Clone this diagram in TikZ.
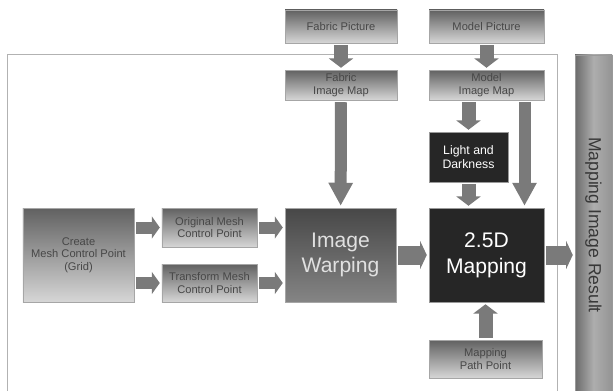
\documentclass[tikz,border=0pt]{standalone}
\usepackage{fontspec}
\setmainfont{Liberation Sans}
\usetikzlibrary{arrows.meta}

\begin{document}
\begin{tikzpicture}[x=0.03cm, y=-0.03cm,
    greybox/.style = {draw=black!35, top color=black!62, bottom color=black!16,
        text=black!72, align=center, inner sep=0pt, font=\fontsize{9.5}{10.5}\selectfont},
    darkbox/.style = {draw=black!40, fill=black!85, text=white!88, align=center, inner sep=0pt},
    bigtext/.style = {font=\fontsize{18}{22}\selectfont},
    flow/.style = {draw=black!52, line width=0.42cm, -{Triangle[width=0.72cm, length=0.28cm]},
        shorten <=0.06cm, shorten >=0.06cm},
    sideflow/.style = {flow, line width=0.36cm, -{Triangle[width=0.66cm, length=0.24cm]}},
    wideflow/.style = {flow, line width=0.57cm, -{Triangle[width=0.84cm, length=0.2cm]}},
    longflow/.style = {draw=black!52, line width=0.36cm, -{Triangle[width=0.69cm, length=0.69cm]},
        shorten <=0.06cm, shorten >=0.06cm}]
    \useasboundingbox (0,0) rectangle (614,391);
    % frame
    \draw[black!30, line width=0.5pt] (7,400) -- (7,54) -- (557,54) -- (557,400);
    % boxes
    \node[greybox, minimum width=3.36cm, minimum height=0.99cm] (fabpic) at (341,26.5) {Fabric Picture};
    \node[greybox, minimum width=3.45cm, minimum height=0.99cm] (modpic) at (486.5,26.5) {Model Picture};
    \node[greybox, minimum width=3.36cm, minimum height=0.9cm] (fabmap) at (341,85) {Fabric\\Image Map};
    \node[greybox, minimum width=3.45cm, minimum height=0.9cm] (modmap) at (486.5,85) {Model\\Image Map};
    \node[darkbox, minimum width=2.37cm, minimum height=1.5cm, font=\fontsize{10.5}{11.5}\selectfont]
        (light) at (468.5,157) {Light and\\Darkness};
    \node[greybox, minimum width=3.33cm, minimum height=2.82cm, bigtext,
        top color=black!72, bottom color=black!48, text=black!12] (warp) at (340.5,255) {Image\\Warping};
    \node[darkbox, minimum width=3.45cm, minimum height=2.82cm, bigtext] (mapping) at (486.5,255) {2.5D\\Mapping};
    \node[greybox, minimum width=3.33cm, minimum height=2.82cm] (create) at (78.5,255)
        {Create\\Mesh Control Point\\(Grid)};
    \node[greybox, minimum width=2.85cm, minimum height=1.17cm] (orig) at (209.5,227.5) {Original Mesh\\Control Point};
    \node[greybox, minimum width=2.85cm, minimum height=1.14cm] (trans) at (209.5,283) {Transform Mesh\\Control Point};
    \node[greybox, minimum width=3.39cm, minimum height=1.14cm] (path) at (485.5,359) {Mapping\\Path Point};
    \node[draw=black!40, inner sep=0pt, minimum width=1.11cm, minimum height=10.2cm,
        left color=black!58, right color=black!42, middle color=black!32, text=black!78]
        (result) at (593.5,225) {\rotatebox{-90}{\fontsize{15}{17}\selectfont Mapping Image Result}};
    % arrows
    \draw[flow] (fabpic) -- (fabmap);
    \draw[flow] (modpic) -- (modmap);
    \draw[longflow] (fabmap) -- (warp);
    \draw[flow] (modmap.south -| light.north) -- (light);
    \draw[flow] (light) -- (light.south |- mapping.north);
    \draw[longflow] ([xshift=1.14cm]modmap.south) -- ([xshift=1.14cm]mapping.north);
    \draw[sideflow] (create.east |- orig.west) -- (orig.west);
    \draw[sideflow] (create.east |- trans.west) -- (trans.west);
    \draw[sideflow] (orig) -- (orig.east -| warp.west);
    \draw[sideflow] (trans) -- (trans.east -| warp.west);
    \draw[wideflow] (warp) -- (mapping);
    \draw[wideflow] (mapping) -- (mapping.east -| result.west);
    \draw[flow] (path) -- (path.north |- mapping.south);
\end{tikzpicture}
\end{document}
